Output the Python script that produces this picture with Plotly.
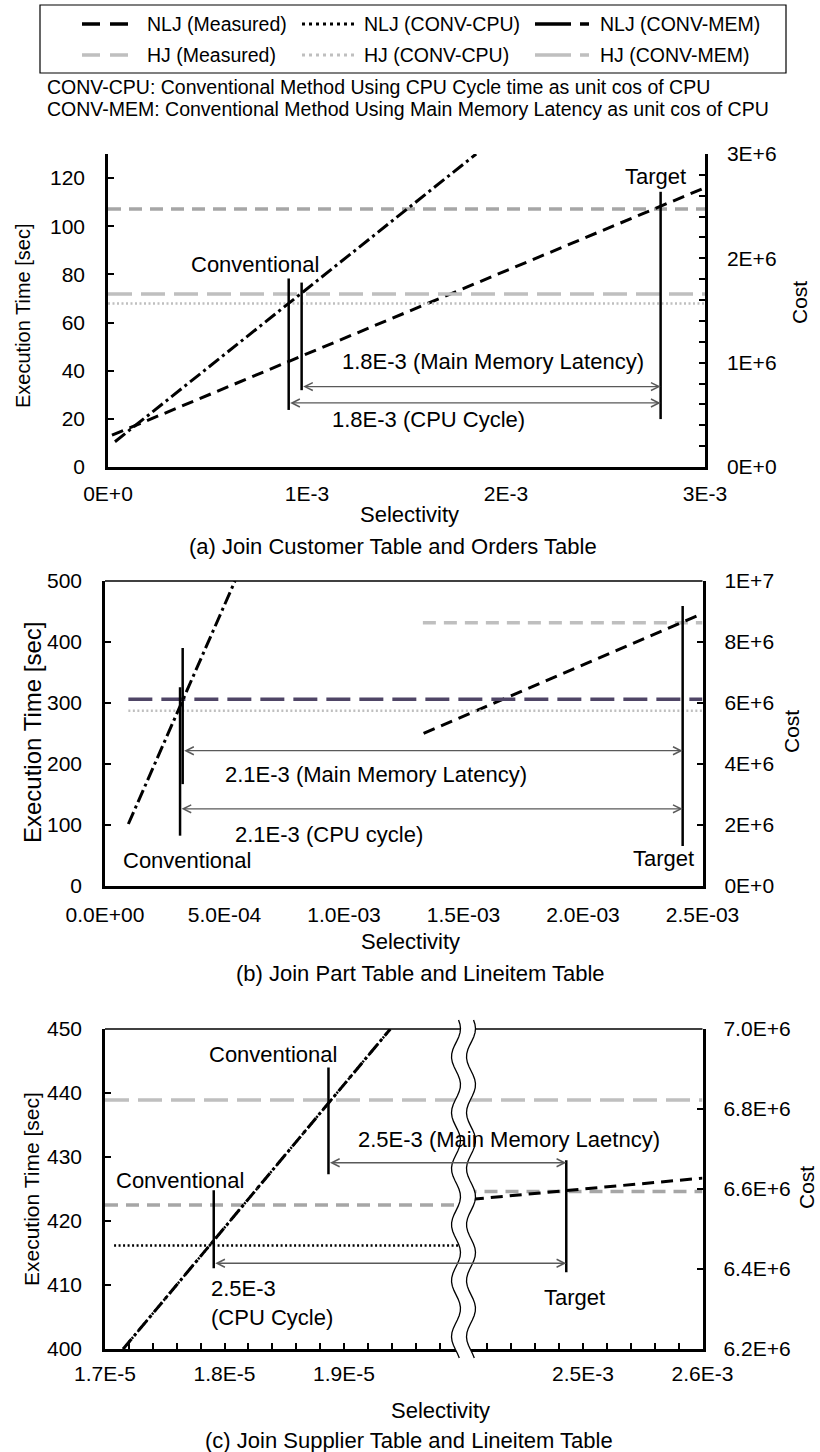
import math
import plotly.graph_objects as go

W, H = 820, 1452
FONT = "Liberation Sans, Arial, sans-serif"

# ---------------- data ----------------
# (a) Join Customer Table and Orders Table
a_sel_nlj_measured = [0.00002, 0.003]
a_time_nlj_measured = [13.2, 116.0]
a_sel_nlj_convmem = [0.000035, 0.00185]
a_cost_nlj_convmem = [242000, 3000000]
a_sel_hj = [0.0, 0.003]
a_time_hj_measured = [107.2, 107.2]
a_cost_hj_convmem = [1659000, 1659000]
a_cost_hj_convcpu = [1567000, 1567000]
a_sel_conv_cpu, a_span_conv_cpu = 0.000908, [23.7, 78.3]
a_sel_conv_mem, a_span_conv_mem = 0.000973, [31.9, 76.6]
a_sel_target, a_span_target = 0.002777, [19.9, 114.3]
a_arrow_mem_time, a_arrow_cpu_time = 33.4, 26.6

# (b) Join Part Table and Lineitem Table
b_sel_nlj_measured = [0.001333, 0.002475]
b_time_nlj_measured = [250.3, 442.6]
b_sel_nlj_convmem = [0.0000977, 0.000544]
b_cost_nlj_convmem = [2032000, 10000000]
b_sel_hj_measured = [0.00133, 0.0025]
b_time_hj_measured = [431.6, 431.6]
b_sel_hj_conv = [0.0000977, 0.0025]
b_cost_hj_convmem = [6120000, 6120000]
b_cost_hj_convcpu = [5748000, 5748000]
b_sel_conv_mem, b_span_conv_mem = 0.000325, [167.0, 390.0]
b_sel_conv_cpu, b_span_conv_cpu = 0.000314, [82.5, 325.7]
b_sel_target, b_span_target = 0.002417, [65.6, 459.0]
b_arrow_mem_time, b_arrow_cpu_time = 221.8, 126.5

# (c) Join Supplier Table and Lineitem Table (broken selectivity axis)
c_sel_nlj_conv = [1.7152e-5, 1.9388e-5]
c_cost_nlj_conv = [6200000, 7000000]
c_sel_nlj_convcpu_flat = [1.7076e-5, 1.997e-5]
c_cost_nlj_convcpu_flat = [6459000, 6459000]
c_sel_hj_measured_left = [1.7e-5, 2.0e-5]
c_time_hj_measured_left = [422.5, 422.5]
c_sel_hj_measured_right = [2.4e-3, 2.6e-3]
c_time_hj_measured_right = [424.6, 424.6]
c_sel_hj_convmem = [1.7e-5, 2.0e-5, 2.4e-3, 2.6e-3]
c_cost_hj_convmem = [6822400, 6822400, 6822400, 6822400]
c_sel_nlj_measured = [2.407e-3, 2.6e-3]
c_time_nlj_measured = [423.4, 426.7]
c_sel_conv_mem, c_span_conv_mem = 1.887e-5, [427.3, 444.0]
c_sel_conv_cpu, c_span_conv_cpu = 1.791e-5, [412.6, 424.8]
c_sel_target, c_span_target = 2.486e-3, [412.0, 429.5]
c_arrow_mem_time, c_arrow_cpu_time = 429.1, 413.4
c_tick_sel = [1.7e-5, 1.8e-5, 1.9e-5, 2.5e-3, 2.6e-3]
c_tick_text = ["1.7E-5", "1.8E-5", "1.9E-5", "2.5E-3", "2.6E-3"]

# tick labels
a_xtick_sel = [0, 0.001, 0.002, 0.003]
a_xtick_text = ["0E+0", "1E-3", "2E-3", "3E-3"]
a_cost_ticks = [0, 1e6, 2e6, 3e6]
a_cost_text = ["0E+0", "1E+6", "2E+6", "3E+6"]
b_xtick_sel = [0, 0.0005, 0.001, 0.0015, 0.002, 0.0025]
b_xtick_text = ["0.0E+00", "5.0E-04", "1.0E-03", "1.5E-03", "2.0E-03", "2.5E-03"]
b_cost_ticks = [0, 2e6, 4e6, 6e6, 8e6, 1e7]
b_cost_text = ["0E+0", "2E+6", "4E+6", "6E+6", "8E+6", "1E+7"]
c_cost_ticks = [6.2e6, 6.4e6, 6.6e6, 6.8e6, 7.0e6]
c_cost_text = ["6.2E+6", "6.4E+6", "6.6E+6", "6.8E+6", "7.0E+6"]

# legend entries (row-major, 3 per row)
legend_names = ["NLJ (Measured)", "NLJ (CONV-CPU)", "NLJ (CONV-MEM)",
                "HJ (Measured)", "HJ (CONV-CPU)", "HJ (CONV-MEM)"]

# ---------------- styling ----------------
BLACK = "#000000"
GRAY = "#a6a6a6"
LGRAY = "#bfbfbf"
PURPLE = "#4f4566"
ARROW = "#595959"
DASH_MEAS = "12px,7px"
DASH_HJMEAS = "13px,8px"
DASH_CONVMEM = "13px,4px,3px,4px"
DASH_LONG = "24px,9px"
DASH_DOT = "2px,2.5px"

legend_styles = [
    dict(color=BLACK, width=3.5, dash="18px,10px"),
    dict(color=BLACK, width=3, dash="3px,4px"),
    dict(color=BLACK, width=3.5, dash="36px,9px,9px,9px"),
    dict(color=LGRAY, width=3.5, dash="18px,10px"),
    dict(color=LGRAY, width=3, dash="3px,4px"),
    dict(color=LGRAY, width=3.5, dash="36px,9px,9px,9px"),
]

# plot-area pixel boxes [x0, x1], [ytop, ybottom]
A_X, A_Y = (108, 705), (154, 467)
B_X, B_Y = (105, 702.5), (581, 886)
C_X, C_Y = (105, 702.5), (1029, 1349)


def xdom(b):
    return [b[0] / W, b[1] / W]


def ydom(b):
    return [1 - b[1] / H, 1 - b[0] / H]


# broken axis for (c): left segment 1.7E-5..2.0E-5, right segment 2.4E-3..2.6E-3
C_LEFT = (1.7e-5, 2.0e-5)
C_RIGHT = (2.4e-3, 2.6e-3)


def cpos(s):
    if s <= C_LEFT[1] * 1.0001:
        return (s - C_LEFT[0]) / 1e-6
    return 3 + (s - C_RIGHT[0]) / 1e-4


def cmap(seq):
    return [cpos(s) for s in seq]


fig = go.Figure()


def add_line(x, y, xa, ya, color, dash, width, name):
    fig.add_trace(go.Scatter(
        x=x, y=y, xaxis=xa, yaxis=ya, mode="lines",
        line=dict(color=color, dash=dash, width=width),
        name=name, showlegend=False, hoverinfo="skip"))


# ---- panel (a)
add_line(a_sel_hj, a_time_hj_measured, "x", "y", GRAY, DASH_HJMEAS, 3.5, "HJ (Measured)")
add_line(a_sel_hj, a_cost_hj_convcpu, "x", "y2", LGRAY, DASH_DOT, 2.5, "HJ (CONV-CPU)")
add_line(a_sel_hj, a_cost_hj_convmem, "x", "y2", LGRAY, DASH_LONG, 3.5, "HJ (CONV-MEM)")
add_line(a_sel_nlj_measured, a_time_nlj_measured, "x", "y", BLACK, DASH_MEAS, 3, "NLJ (Measured)")
add_line(a_sel_nlj_convmem, a_cost_nlj_convmem, "x", "y2", BLACK, DASH_CONVMEM, 3, "NLJ (CONV-MEM)")

# ---- panel (b)
add_line(b_sel_hj_measured, b_time_hj_measured, "x2", "y3", LGRAY, DASH_HJMEAS, 3.5, "HJ (Measured)")
add_line(b_sel_hj_conv, b_cost_hj_convcpu, "x2", "y4", LGRAY, DASH_DOT, 2.5, "HJ (CONV-CPU)")
add_line(b_sel_hj_conv, b_cost_hj_convmem, "x2", "y4", PURPLE, DASH_LONG, 3.5, "HJ (CONV-MEM)")
add_line(b_sel_nlj_measured, b_time_nlj_measured, "x2", "y3", BLACK, DASH_MEAS, 3, "NLJ (Measured)")
add_line(b_sel_nlj_convmem, b_cost_nlj_convmem, "x2", "y4", BLACK, DASH_CONVMEM, 3, "NLJ (CONV-MEM)")

# ---- panel (c)
add_line(cmap(c_sel_hj_measured_left), c_time_hj_measured_left, "x3", "y5", GRAY, DASH_HJMEAS, 3.5, "HJ (Measured)")
add_line(cmap(c_sel_hj_measured_right), c_time_hj_measured_right, "x3", "y5", GRAY, DASH_HJMEAS, 3.5, "HJ (Measured)")
add_line(cmap(c_sel_hj_convmem), c_cost_hj_convmem, "x3", "y6", LGRAY, DASH_LONG, 3.5, "HJ (CONV-MEM)")
add_line(cmap(c_sel_nlj_measured), c_time_nlj_measured, "x3", "y5", BLACK, DASH_MEAS, 3, "NLJ (Measured)")
add_line(cmap(c_sel_nlj_convcpu_flat), c_cost_nlj_convcpu_flat, "x3", "y6", BLACK, DASH_DOT, 2.5, "NLJ (CONV-CPU)")
add_line(cmap(c_sel_nlj_conv), c_cost_nlj_conv, "x3", "y6", BLACK, DASH_DOT, 2.5, "NLJ (CONV-CPU)")
add_line(cmap(c_sel_nlj_conv), c_cost_nlj_conv, "x3", "y6", BLACK, DASH_CONVMEM, 3, "NLJ (CONV-MEM)")

# ---------------- axes ----------------
TICKFONT = dict(family=FONT, size=21, color="black")


def base_axis(**kw):
    d = dict(showgrid=False, zeroline=False, showline=True, linecolor="black",
             linewidth=2.5, tickfont=TICKFONT, ticks="inside", ticklen=6,
             tickwidth=1.5, tickcolor="black", automargin=False, fixedrange=True)
    d.update(kw)
    return d


layout_axes = dict(
    xaxis=base_axis(domain=xdom(A_X), anchor="y", range=[0, 0.003], tickmode="array",
                    tickvals=a_xtick_sel, ticktext=a_xtick_text, ticks="", ticklabelstandoff=6),
    yaxis=base_axis(domain=ydom(A_Y), anchor="x", range=[0, 130], tickmode="linear",
                    tick0=0, dtick=20, ticklabelstandoff=16),
    yaxis2=base_axis(domain=ydom(A_Y), anchor="x", overlaying="y", side="right",
                     range=[0, 3e6], tickmode="array", tickvals=a_cost_ticks,
                     ticktext=a_cost_text, ticklabelstandoff=15,
                     minor=dict(tickmode="linear", tick0=0, dtick=2e5, ticks="inside",
                                ticklen=6, tickwidth=1.5, tickcolor="black")),
    xaxis2=base_axis(domain=xdom(B_X), anchor="y3", range=[0, 0.0025], tickmode="array",
                     tickvals=b_xtick_sel, ticktext=b_xtick_text, ticks="", ticklabelstandoff=8),
    yaxis3=base_axis(domain=ydom(B_Y), anchor="x2", range=[0, 500], tickmode="linear",
                     tick0=0, dtick=100, ticklabelstandoff=16),
    yaxis4=base_axis(domain=ydom(B_Y), anchor="x2", overlaying="y3", side="right",
                     range=[0, 1e7], tickmode="array", tickvals=b_cost_ticks,
                     ticktext=b_cost_text, ticklabelstandoff=15),
    xaxis3=base_axis(domain=xdom(C_X), anchor="y5", range=[0, 5], tickmode="array",
                     tickvals=cmap(c_tick_sel), ticktext=c_tick_text, ticklabelstandoff=4,
                     minor=dict(tickmode="linear", tick0=0, dtick=0.2, ticks="inside",
                                ticklen=6, tickwidth=1.5, tickcolor="black")),
    yaxis5=base_axis(domain=ydom(C_Y), anchor="x3", range=[400, 450], tickmode="linear",
                     tick0=400, dtick=10, ticklabelstandoff=16),
    yaxis6=base_axis(domain=ydom(C_Y), anchor="x3", overlaying="y5", side="right",
                     range=[6.2e6, 7.0e6], tickmode="array", tickvals=c_cost_ticks,
                     ticktext=c_cost_text, ticklabelstandoff=14),
)

# ---------------- shapes ----------------
shapes = []


def vline(x, span, xa, ya):
    shapes.append(dict(type="line", xref=xa, yref=ya, x0=x, x1=x, y0=span[0], y1=span[1],
                       line=dict(color="black", width=2.5)))


vline(a_sel_conv_cpu, a_span_conv_cpu, "x", "y")
vline(a_sel_conv_mem, a_span_conv_mem, "x", "y")
vline(a_sel_target, a_span_target, "x", "y")
vline(b_sel_conv_mem, b_span_conv_mem, "x2", "y3")
vline(b_sel_conv_cpu, b_span_conv_cpu, "x2", "y3")
vline(b_sel_target, b_span_target, "x2", "y3")
vline(cpos(c_sel_conv_mem), c_span_conv_mem, "x3", "y5")
vline(cpos(c_sel_conv_cpu), c_span_conv_cpu, "x3", "y5")
vline(cpos(c_sel_target), c_span_target, "x3", "y5")

# thin top borders of (b) and (c)
for xa, ya in (("x2", "y3"), ("x3", "y5")):
    shapes.append(dict(type="line", xref=xa + " domain", yref=ya + " domain", x0=0, x1=1,
                       y0=1, y1=1, line=dict(color="black", width=1.5)))

# axis break for (c)
brk_px = C_X[0] + 3 / 5 * (C_X[1] - C_X[0])
top_px, bot_px = C_Y[0] - 9, C_Y[1] + 9
half_gap, amp, period = 7.5, 4.5, 56.0


def wave(xc, reverse=False):
    pts = []
    n = 80
    for i in range(n + 1):
        ypx = top_px + (bot_px - top_px) * i / n
        xpx = xc + amp * math.sin(2 * math.pi * (ypx - top_px) / period + 0.6)
        pts.append((xpx / W, 1 - ypx / H))
    return pts[::-1] if reverse else pts


left_w = wave(brk_px - half_gap)
right_w = wave(brk_px + half_gap, reverse=True)


def to_path(pts, close=False):
    s = "M" + " L".join(f"{x:.5f},{y:.5f}" for x, y in pts)
    return s + (" Z" if close else "")


shapes.append(dict(type="path", xref="paper", yref="paper", layer="above",
                   path=to_path(left_w + right_w, close=True),
                   fillcolor="white", line=dict(width=0)))
for pts in (left_w, right_w):
    shapes.append(dict(type="path", xref="paper", yref="paper", layer="above",
                       path=to_path(pts), line=dict(color="black", width=1.3)))

# legend box and symbols (drawn as a framed key)
LEG_BOX = (40, 786, 5, 73)
LEG_ROWS = (24, 55)
LEG_SYM = ((82, 128), (302, 355), (535, 594))
LEG_TXT = (145, 362, 598)
shapes.append(dict(type="rect", xref="paper", yref="paper",
                   x0=LEG_BOX[0] / W, x1=LEG_BOX[1] / W,
                   y0=1 - LEG_BOX[3] / H, y1=1 - LEG_BOX[2] / H,
                   line=dict(color="black", width=1.2), fillcolor="rgba(0,0,0,0)"))
for i, style in enumerate(legend_styles):
    r, c = divmod(i, 3)
    yy = 1 - LEG_ROWS[r] / H
    shapes.append(dict(type="line", xref="paper", yref="paper",
                       x0=LEG_SYM[c][0] / W, x1=LEG_SYM[c][1] / W, y0=yy, y1=yy,
                       line=style))

# ---------------- annotations ----------------
ann = []
TXT = dict(family=FONT, size=22, color="black")


def text(x, y, s, xa, ya, **kw):
    d = dict(x=x, y=y, xref=xa, yref=ya, text=s, showarrow=False, font=TXT,
             xanchor="center", yanchor="middle")
    d.update(kw)
    ann.append(d)


def arrow(x0, x1, y, xa, ya):
    ann.append(dict(x=x1, y=y, ax=x0, ay=y, xref=xa, yref=ya, axref=xa, ayref=ya,
                    text="", showarrow=True, arrowhead=5, startarrowhead=5,
                    arrowside="end+start", arrowsize=1.2, arrowwidth=1.3,
                    arrowcolor=ARROW, standoff=0, startstandoff=0))


# (a)
text(0.000739, 84.0, "Conventional", "x", "y")
text(0.002749, 120.5, "Target", "x", "y")
text(0.001935, 44.0, "1.8E-3 (Main Memory Latency)", "x", "y")
text(0.001609, 19.9, "1.8E-3 (CPU Cycle)", "x", "y")
arrow(a_sel_conv_mem, a_sel_target, a_arrow_mem_time, "x", "y")
arrow(a_sel_conv_cpu, a_sel_target, a_arrow_cpu_time, "x", "y")
# (b)
text(0.000345, 42.6, "Conventional", "x2", "y3")
text(0.002338, 45.4, "Target", "x2", "y3")
text(0.001135, 182.0, "2.1E-3 (Main Memory Latency)", "x2", "y3")
text(0.000938, 85.0, "2.1E-3 (CPU cycle)", "x2", "y3")
arrow(b_sel_conv_mem, b_sel_target, b_arrow_mem_time, "x2", "y3")
arrow(b_sel_conv_cpu, b_sel_target, b_arrow_cpu_time, "x2", "y3")
# (c)
text(cpos(1.8404e-5), 446.05, "Conventional", "x3", "y5")
text(cpos(1.7628e-5), 426.4, "Conventional", "x3", "y5")
text(cpos(2.4378e-3), 432.7, "2.5E-3 (Main Memory Laetncy)", "x3", "y5")
text(cpos(1.7871e-5), 407.2, "2.5E-3<br>(CPU Cycle)", "x3", "y5", xanchor="left", align="left")
text(cpos(2.4928e-3), 408.1, "Target", "x3", "y5")
arrow(cpos(c_sel_conv_mem), cpos(c_sel_target), c_arrow_mem_time, "x3", "y5")
arrow(cpos(c_sel_conv_cpu), cpos(c_sel_target), c_arrow_cpu_time, "x3", "y5")


def ptext(xpx, ypx, s, size, **kw):
    d = dict(x=xpx / W, y=1 - ypx / H, xref="paper", yref="paper", text=s,
             showarrow=False, xanchor="center", yanchor="middle",
             font=dict(family=FONT, size=size, color="black"))
    d.update(kw)
    ann.append(d)


# legend texts
for i, name in enumerate(legend_names):
    r, c = divmod(i, 3)
    ptext(LEG_TXT[c], LEG_ROWS[r], name, 19.5, xanchor="left")

# axis titles & captions
ptext(23, 316, "Execution Time [sec]", 20, textangle=-90)
ptext(32, 733, "Execution Time [sec]", 24, textangle=-90)
ptext(31, 1189, "Execution Time [sec]", 21, textangle=-90)
ptext(799, 303, "Cost", 21, textangle=-90)
ptext(791, 732, "Cost", 21, textangle=-90)
ptext(806, 1188, "Cost", 21, textangle=-90)
ptext(409, 515, "Selectivity", 22)
ptext(410, 942, "Selectivity", 22)
ptext(440, 1410, "Selectivity", 22)
ptext(393, 547, "(a) Join Customer Table and Orders Table", 22)
ptext(420, 973, "(b) Join Part Table and Lineitem Table", 22)
ptext(409, 1440, "(c) Join Supplier Table and Lineitem Table", 22)
# notes under the legend
ptext(45, 87, "CONV-CPU: Conventional Method Using CPU Cycle time as unit cos of CPU", 19.5, xanchor="left")
ptext(45, 109, "CONV-MEM: Conventional Method Using Main Memory Latency as unit cos of CPU", 19.5, xanchor="left")

fig.update_layout(
    width=W, height=H, margin=dict(l=0, r=0, t=0, b=0), autosize=False,
    paper_bgcolor="white", plot_bgcolor="white",
    font=dict(family=FONT, color="black"),
    showlegend=False,
    shapes=shapes, annotations=ann,
    **layout_axes,
)

fig.write_html("out.html")
